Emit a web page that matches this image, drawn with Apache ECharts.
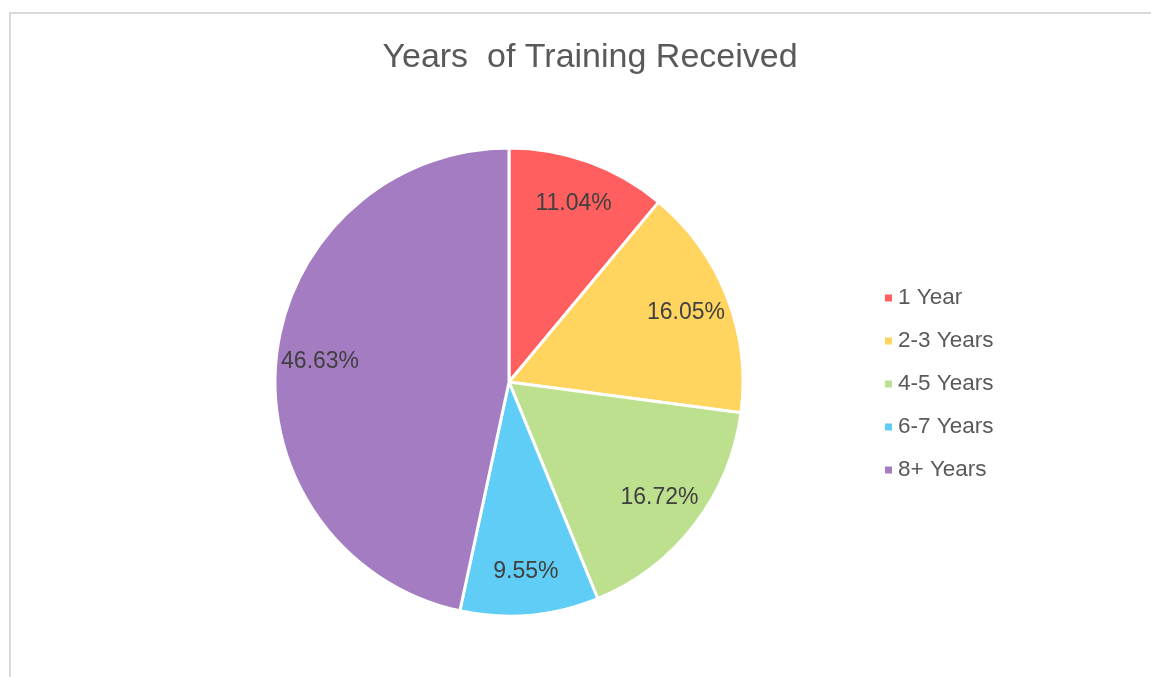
<!DOCTYPE html>
<html>
<head>
<meta charset="utf-8">
<title>Years of Training Received</title>
<script src="https://cdn.jsdelivr.net/npm/echarts@6/dist/echarts.min.js"></script>
<style>
  html, body {
    margin: 0;
    padding: 0;
    background: #fff;
    overflow: hidden;
  }
  #chart-root {
    width: 1151px;
    height: 677px;
  }
  .frame {
    position: absolute;
    left: 9px;
    top: 12px;
    width: 1300px;
    height: 900px;
    border: 2px solid #d9d9d9;
    pointer-events: none;
  }
</style>
</head>
<body>
<div class="frame"></div>
<div id="chart-root"></div>
<script>
  const categories = ['1 Year', '2-3 Years', '4-5 Years', '6-7 Years', '8+ Years']
  const shares = [11.04, 16.05, 16.72, 9.55, 46.63]
  const sliceColors = ['#ff5f5f', '#ffd55f', '#bce08e', '#5fcdf5', '#a47cc2']

  let chart = echarts.init(document.getElementById('chart-root'))

  let pieData = categories.map((name, i) => ({
    name: name,
    value: shares[i],
    itemStyle: {color: sliceColors[i]}
  }))

  let option = {
    animation: false,
    textStyle: {
      fontFamily: '"Liberation Sans", Arial, sans-serif'
    },
    title: {
      text: 'Years  of Training Received',
      left: 585,
      top: 36,
      textAlign: 'center',
      textStyle: {
        fontSize: 34,
        fontWeight: 'normal',
        color: '#595959'
      }
    },
    legend: {
      orient: 'vertical',
      left: 878,
      top: 281,
      icon: 'rect',
      itemWidth: 9,
      itemHeight: 9,
      itemGap: 19,
      data: categories,
      textStyle: {
        fontSize: 22.5,
        lineHeight: 24,
        color: '#595959'
      }
    },
    series: [
      {
        // the slices
        name: 'slices',
        type: 'pie',
        center: [509, 382],
        radius: [0, 234],
        startAngle: 90,
        clockwise: true,
        itemStyle: {
          borderColor: '#fff',
          borderWidth: 3
        },
        label: {show: false},
        labelLine: {show: false},
        emphasis: {disabled: true},
        data: pieData
      },
      {
        // transparent ring only used to place the percent labels
        name: 'labels',
        type: 'pie',
        center: [509, 382],
        radius: [140, 234],
        startAngle: 90,
        clockwise: true,
        silent: true,
        itemStyle: {color: 'rgba(0,0,0,0)'},
        label: {
          show: true,
          position: 'inside',
          fontSize: 23,
          color: '#404040',
          formatter: p => p.value.toFixed(2) + '%'
        },
        labelLine: {show: false},
        data: categories.map((name, i) => ({name: name, value: shares[i]}))
      }
    ]
  }

  chart.setOption(option)
</script>
</body>
</html>
